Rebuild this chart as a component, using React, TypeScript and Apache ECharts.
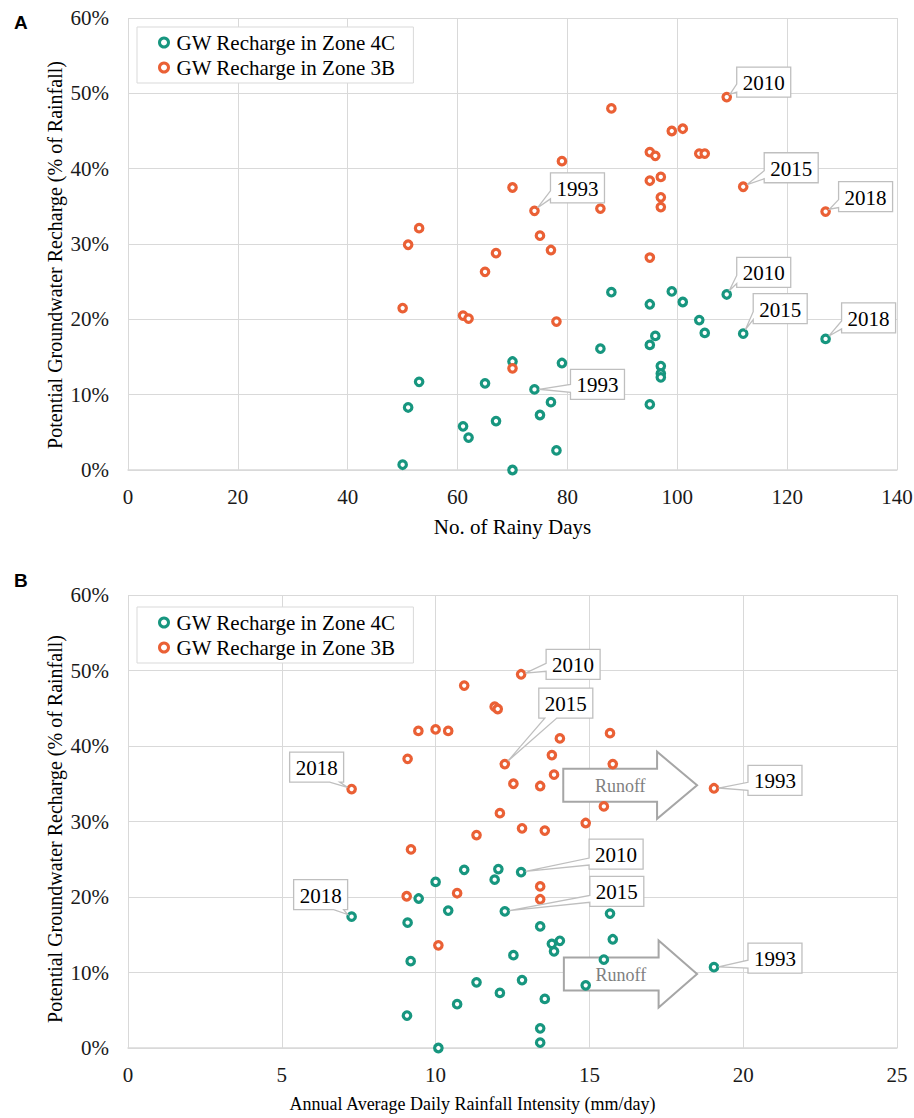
import React, { useEffect, useRef } from "react";
import * as echarts from "echarts";

// ---------- DATA ----------
const seriesNames = ["GW Recharge in Zone 4C", "GW Recharge in Zone 3B"];
const yAxisTitle = "Potential Groundwater Recharge (% of Rainfall)";

// Panel A: [No. of rainy days, potential recharge %]
const zone4CByRainyDays: [number, number][] = [
  [50, 0.7], [51, 8.3], [53, 11.7], [61, 5.8], [62, 4.3], [65, 11.5], [67, 6.5], [70, 14.4], [70, 0], [74, 10.7],
  [75, 7.3], [77, 9.0], [78, 2.6], [79, 14.2], [86, 16.1], [88, 23.6], [95, 22.0], [95, 16.6], [95, 8.7], [96, 17.8],
  [97, 13.8], [97, 12.8], [97, 12.3], [99, 23.7], [101, 22.3], [104, 19.9], [105, 18.2], [109, 23.3], [112, 18.1], [127, 17.4],
];
const zone3BByRainyDays: [number, number][] = [
  [50, 21.5], [51, 29.9], [53, 32.1], [61, 20.5], [62, 20.1], [65, 26.3], [67, 28.8], [70, 37.5], [70, 13.5], [74, 34.4],
  [75, 31.1], [77, 29.2], [78, 19.7], [79, 41.0], [86, 34.7], [88, 48.0], [95, 42.2], [95, 38.4], [95, 28.2], [96, 41.7],
  [97, 38.9], [97, 36.2], [97, 34.9], [99, 45.0], [101, 45.3], [104, 42.0], [105, 42.0], [109, 49.5], [112, 37.6], [127, 34.3],
];

// Panel B: [annual average daily rainfall intensity mm/day, potential recharge %]
const zone4CByIntensity: [number, number][] = [
  [10.93, 23.6], [10.0, 22.0], [9.45, 19.8], [10.41, 18.2], [7.27, 17.4], [9.09, 16.6], [9.19, 11.5], [11.33, 8.7], [10.7, 5.8], [9.07, 4.3],
  [10.09, 0], [12.04, 23.7], [11.92, 22.3], [12.78, 23.3], [12.25, 18.1], [15.67, 17.8], [13.4, 16.1], [15.76, 14.4], [14.04, 14.2], [13.78, 13.8],
  [13.85, 12.8], [12.53, 12.3], [15.47, 11.7], [12.81, 9.0], [12.09, 7.3], [14.88, 8.3], [13.55, 6.5], [13.4, 2.6], [13.4, 0.7], [19.05, 10.7],
];
const zone3BByIntensity: [number, number][] = [
  [10.93, 48.0], [9.44, 42.0], [10.0, 42.2], [10.41, 42.0], [9.09, 38.3], [7.27, 34.3], [11.33, 28.2], [9.2, 26.3], [9.06, 20.1], [10.7, 20.5],
  [10.09, 13.6], [12.78, 49.5], [11.92, 45.2], [12.02, 44.9], [15.67, 41.7], [14.04, 41.0], [13.78, 38.8], [12.25, 37.6], [15.76, 37.6], [13.85, 36.2],
  [12.53, 35.0], [13.4, 34.7], [15.47, 32.0], [12.09, 31.1], [14.88, 29.8], [12.81, 29.1], [13.55, 28.8], [13.4, 21.4], [13.4, 19.7], [19.05, 34.4],
];

const xTicksA = { min: 0, max: 140, interval: 20 };
const xTicksB = { min: 0, max: 25, interval: 5 };
const yTicks = { min: 0, max: 60, interval: 10 };

// Labelled years: which point of which series
const callouts = [
  { grid: 0, data: zone3BByRainyDays, idx: 27, label: "2010", dx: 10, dy: -30, side: "left", b1: 17, b2: 25 },
  { grid: 0, data: zone3BByRainyDays, idx: 28, label: "2015", dx: 21, dy: -34, side: "left", b1: 18, b2: 26 },
  { grid: 0, data: zone3BByRainyDays, idx: 29, label: "2018", dx: 13, dy: -30, side: "left", b1: 18, b2: 26 },
  { grid: 0, data: zone3BByRainyDays, idx: 9, label: "1993", dx: 16, dy: -38, side: "left", b1: 18, b2: 26 },
  { grid: 0, data: zone4CByRainyDays, idx: 27, label: "2010", dx: 10, dy: -37, side: "left", b1: 18, b2: 26 },
  { grid: 0, data: zone4CByRainyDays, idx: 28, label: "2015", dx: 10, dy: -40, side: "left", b1: 18, b2: 26 },
  { grid: 0, data: zone4CByRainyDays, idx: 29, label: "2018", dx: 16, dy: -36, side: "left", b1: 18, b2: 26 },
  { grid: 0, data: zone4CByRainyDays, idx: 9, label: "1993", dx: 36, dy: -20, side: "left", b1: 15, b2: 23 },
  { grid: 1, data: zone3BByIntensity, idx: 5, label: "2018", dx: -62, dy: -37, side: "bottom", b1: 40, b2: 50 },
  { grid: 1, data: zone4CByIntensity, idx: 4, label: "2018", dx: -58, dy: -37, side: "bottom", b1: 40, b2: 50 },
  { grid: 1, data: zone3BByIntensity, idx: 11, label: "2010", dx: 25, dy: -25, side: "left", b1: 14, b2: 22 },
  { grid: 1, data: zone3BByIntensity, idx: 17, label: "2015", dx: 34, dy: -76, side: "bottom", b1: 6, b2: 18 },
  { grid: 1, data: zone4CByIntensity, idx: 13, label: "2010", dx: 68, dy: -33, side: "left", b1: 19, b2: 26 },
  { grid: 1, data: zone4CByIntensity, idx: 14, label: "2015", dx: 85, dy: -35, side: "left", b1: 19, b2: 26 },
  { grid: 1, data: zone3BByIntensity, idx: 29, label: "1993", dx: 34, dy: -23, side: "left", b1: 17, b2: 25 },
  { grid: 1, data: zone4CByIntensity, idx: 29, label: "1993", dx: 34, dy: -24, side: "left", b1: 17, b2: 25 },
];

// Runoff arrows in panel B (data coordinates)
const runoffArrows = [
  { y: 34.8, xStart: 14.15, xHeadBase: 17.2, xTip: 18.5 },
  { y: 9.8, xStart: 14.17, xHeadBase: 17.25, xTip: 18.5 },
];

// ---------- STYLE ----------
const FONT = "Liberation Serif";
const GREEN = "#17967f";
const ORANGE = "#ea6035";
const GRID_COLOR = "#d9d9d9";

export default function App() {
  const ref = useRef<HTMLDivElement>(null);

  useEffect(() => {
    if (!ref.current) return;
    const chart = echarts.init(ref.current, undefined, { renderer: "svg" });

    const makeX = (gridIndex: number, t: any, name: string, nameSize: number, nameGap: number, namePad: number[]) => ({
      gridIndex,
      type: "value",
      min: t.min,
      max: t.max,
      interval: t.interval,
      name,
      nameLocation: "middle",
      nameGap,
      nameTextStyle: { fontSize: nameSize, color: "#000", fontFamily: FONT, padding: namePad },
      axisLine: { show: true, lineStyle: { color: GRID_COLOR, width: 1.5 } },
      axisTick: { show: false },
      axisLabel: { fontSize: 21, color: "#1a1a1a", margin: 16, fontFamily: FONT },
      splitLine: { show: true, lineStyle: { color: GRID_COLOR, width: 1 } },
    });
    const makeY = (gridIndex: number) => ({
      gridIndex,
      type: "value",
      min: yTicks.min,
      max: yTicks.max,
      interval: yTicks.interval,
      axisLine: { show: false },
      axisTick: { show: false },
      axisLabel: { fontSize: 21, color: "#1a1a1a", margin: 19, fontFamily: FONT, formatter: "{value}%" },
      splitLine: { show: true, lineStyle: { color: GRID_COLOR, width: 1 } },
    });
    const makeSeries = (name: string, color: string, data: [number, number][], i: number) => ({
      name,
      type: "scatter",
      xAxisIndex: i,
      yAxisIndex: i,
      data,
      symbol: "circle",
      symbolSize: 7.5,
      itemStyle: { color: "#fff", borderColor: color, borderWidth: 3.2, opacity: 1 },
      z: 3,
    });
    const makeLegend = (top: number) => ({
      data: seriesNames,
      orient: "vertical",
      left: 137,
      top,
      itemGap: 4,
      itemWidth: 9,
      itemHeight: 9,
      icon: "circle",
      padding: [5, 18, 5, 21],
      borderColor: GRID_COLOR,
      borderWidth: 1,
      backgroundColor: "#fff",
      itemStyle: { color: "#fff", borderWidth: 3 },
      textStyle: { fontSize: 21, lineHeight: 21, color: "#000", fontFamily: FONT, padding: [0, 0, 0, 3] },
      selectedMode: false,
    });

    chart.setOption({
      animation: false,
      backgroundColor: "#fff",
      textStyle: { fontFamily: FONT },
      grid: [
        { left: 128, top: 18, width: 769, height: 452, containLabel: false, outerBoundsMode: "none" },
        { left: 128, top: 595, width: 769, height: 453, containLabel: false, outerBoundsMode: "none" },
      ],
      xAxis: [
        makeX(0, xTicksA, "No. of Rainy Days", 21, 46, [0, 0, 0, 0]),
        makeX(1, xTicksB, "Annual Average Daily Rainfall Intensity (mm/day)", 18, 47, [0, 80, 0, 0]),
      ],
      yAxis: [makeY(0), makeY(1)],
      legend: [makeLegend(27), makeLegend(607)],
      series: [
        makeSeries(seriesNames[0], GREEN, zone4CByRainyDays, 0),
        makeSeries(seriesNames[1], ORANGE, zone3BByRainyDays, 0),
        makeSeries(seriesNames[0], GREEN, zone4CByIntensity, 1),
        makeSeries(seriesNames[1], ORANGE, zone3BByIntensity, 1),
      ],
    });

    const graphics: any[] = [];
    graphics.push({
      type: "text", x: 14, y: 13, z: 100,
      style: { text: "A", fontFamily: "Liberation Sans", fontWeight: "bold", fontSize: 19, fill: "#000" },
    });
    graphics.push({
      type: "text", x: 14, y: 571, z: 100,
      style: { text: "B", fontFamily: "Liberation Sans", fontWeight: "bold", fontSize: 19, fill: "#000" },
    });

    // Y axis titles (rotated), slightly below the plot centre as in the original
    [[55, 255], [55, 829]].forEach(([x, y]) => {
      graphics.push({
        type: "text", x, y, rotation: Math.PI / 2, z: 100,
        style: { text: yAxisTitle, fill: "#000", fontFamily: FONT, fontSize: 20, align: "center", verticalAlign: "middle" },
      });
    });

    // Runoff arrows
    runoffArrows.forEach((a) => {
      const p0 = chart.convertToPixel({ xAxisIndex: 1, yAxisIndex: 1 }, [a.xStart, a.y]) as number[];
      const p1 = chart.convertToPixel({ xAxisIndex: 1, yAxisIndex: 1 }, [a.xHeadBase, a.y]) as number[];
      const p2 = chart.convertToPixel({ xAxisIndex: 1, yAxisIndex: 1 }, [a.xTip, a.y]) as number[];
      const cy = p0[1];
      const sh = 16.5;
      const hh = 33.5;
      graphics.push({
        type: "polygon", z: 1,
        shape: {
          points: [
            [p0[0], cy - sh], [p1[0], cy - sh], [p1[0], cy - hh], [p2[0], cy],
            [p1[0], cy + hh], [p1[0], cy + sh], [p0[0], cy + sh],
          ],
        },
        style: { fill: "#fff", stroke: "#a6a6a6", lineWidth: 2 },
      });
      graphics.push({
        type: "text", z: 1, x: p0[0] + 57, y: cy + 1,
        style: { text: "Runoff", fill: "#7f7f7f", fontFamily: FONT, fontSize: 18, align: "center", verticalAlign: "middle" },
      });
    });

    // Callouts
    const W = 54, H = 30;
    callouts.forEach((c) => {
      const pt = c.data[c.idx];
      const p = chart.convertToPixel({ xAxisIndex: c.grid, yAxisIndex: c.grid }, pt) as number[];
      const x0 = p[0] + c.dx, y0 = p[1] + c.dy, x1 = x0 + W, y1 = y0 + H;
      let baseMid: number[];
      if (c.side === "left") baseMid = [x0, y0 + (c.b1 + c.b2) / 2];
      else baseMid = [x0 + (c.b1 + c.b2) / 2, y1];
      const vx = baseMid[0] - p[0], vy = baseMid[1] - p[1];
      const len = Math.sqrt(vx * vx + vy * vy) || 1;
      const tip = [p[0] + (vx / len) * 4.5, p[1] + (vy / len) * 4.5];
      let pts: number[][];
      if (c.side === "left") {
        pts = [[x0, y0], [x1, y0], [x1, y1], [x0, y1], [x0, y0 + c.b2], tip, [x0, y0 + c.b1]];
      } else {
        pts = [[x0, y0], [x1, y0], [x1, y1], [x0 + c.b2, y1], tip, [x0 + c.b1, y1], [x0, y1]];
      }
      graphics.push({
        type: "polygon", z: 100,
        shape: { points: pts },
        style: { fill: "#fff", stroke: "#bfbfbf", lineWidth: 1.3 },
      });
      graphics.push({
        type: "text", z: 101, x: (x0 + x1) / 2, y: (y0 + y1) / 2 + 1,
        style: { text: c.label, fill: "#000", fontFamily: FONT, fontSize: 21, align: "center", verticalAlign: "middle" },
      });
    });

    chart.setOption({ graphic: graphics });

    return () => chart.dispose();
  }, []);

  return <div ref={ref} style={{ position: "absolute", left: 0, top: 0, width: 914, height: 1118 }} />;
}
